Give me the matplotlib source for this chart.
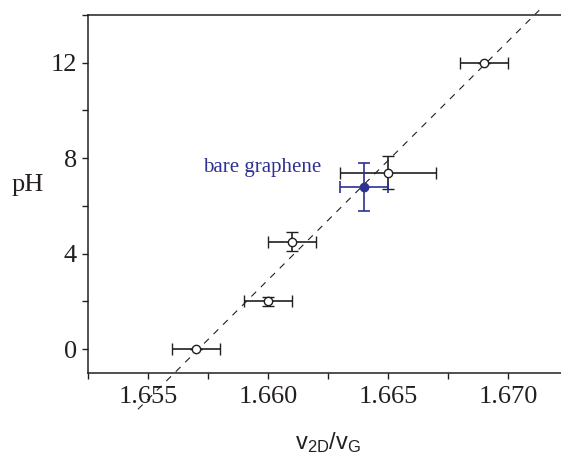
import numpy as np
import matplotlib.pyplot as plt
from matplotlib.ticker import MultipleLocator

plt.rcParams['font.family'] = ['Liberation Serif', 'DejaVu Serif']
plt.rcParams['mathtext.fontset'] = 'custom'
plt.rcParams['mathtext.rm'] = 'Liberation Sans'
plt.rcParams['mathtext.it'] = 'Liberation Sans'

# measured points (open symbols)
ratio = [1.657, 1.660, 1.661, 1.665, 1.669]
ph = [0.0, 2.0, 4.5, 7.4, 12.0]
ratio_err = [0.001, 0.001, 0.001, 0.002, 0.001]
ph_err = [0.0, 0.2, 0.4, 0.7, 0.0]

# bare graphene (filled blue)
bare_ratio = [1.664]
bare_ph = [6.8]
bare_ratio_err = [0.001]
bare_ph_err = [1.0]

# linear fit line endpoints
fit_x = [1.65458, 1.6713]
fit_slope = 1000.0
fit_x0 = 1.6571

ink = '#231f20'
blue = '#2e3192'

fig = plt.figure(figsize=(5.61, 4.57), dpi=100)
ax = fig.add_axes([0.1569, 0.1838, 1.0125 - 0.1569, 0.9672 - 0.1838])

fx = np.array(fit_x)
ax.plot(fx, fit_slope * (fx - fit_x0), color=ink, lw=0.8, dashes=(6, 6),
        clip_on=False, zorder=1)

ax.errorbar(ratio, ph, xerr=ratio_err, yerr=ph_err, fmt='o', color=ink,
            mfc='white', mec=ink, ms=6, mew=1.0, ecolor=ink, elinewidth=1.2,
            capsize=4, capthick=1.2, zorder=3)
ax.errorbar(bare_ratio, bare_ph, xerr=bare_ratio_err, yerr=bare_ph_err, fmt='o',
            color=blue, mfc=blue, mec=blue, ms=6, ecolor=blue, elinewidth=1.2,
            capsize=4, capthick=1.2, zorder=3)

ax.text(1.6573, 7.6, 'bare graphene', color=blue, fontsize=15, va='center')

ax.set_xlim(1.6525, 1.6725)
ax.set_ylim(-1, 14)
ax.xaxis.set_major_locator(MultipleLocator(0.005))
ax.xaxis.set_minor_locator(MultipleLocator(0.0025))
ax.yaxis.set_major_locator(MultipleLocator(4))
ax.yaxis.set_minor_locator(MultipleLocator(2))
ax.set_xticks([1.655, 1.660, 1.665, 1.670])
ax.set_xticklabels(['1.655', '1.660', '1.665', '1.670'])
ax.set_yticks([0, 4, 8, 12])

ax.tick_params(which='both', direction='out', length=4, width=1.0, colors=ink,
               labelsize=19, labelcolor=ink)
ax.tick_params(axis='x', pad=5)
ax.tick_params(axis='y', pad=4)
for s in ['left', 'bottom', 'top']:
    ax.spines[s].set_linewidth(1.1)
    ax.spines[s].set_color(ink)
ax.spines['right'].set_visible(False)

ax.set_ylabel('pH', fontsize=19, color=ink, rotation=0, va='center', ha='center')
ax.yaxis.set_label_coords(-0.126, 0.525)
ax.set_xlabel(r'$\mathrm{v}_{\mathrm{2D}}/\mathrm{v}_{\mathrm{G}}$', fontsize=17,
              color=ink, va='bottom')
ax.xaxis.set_label_coords(0.5, -0.23)

fig.savefig('out.png', dpi=100)
